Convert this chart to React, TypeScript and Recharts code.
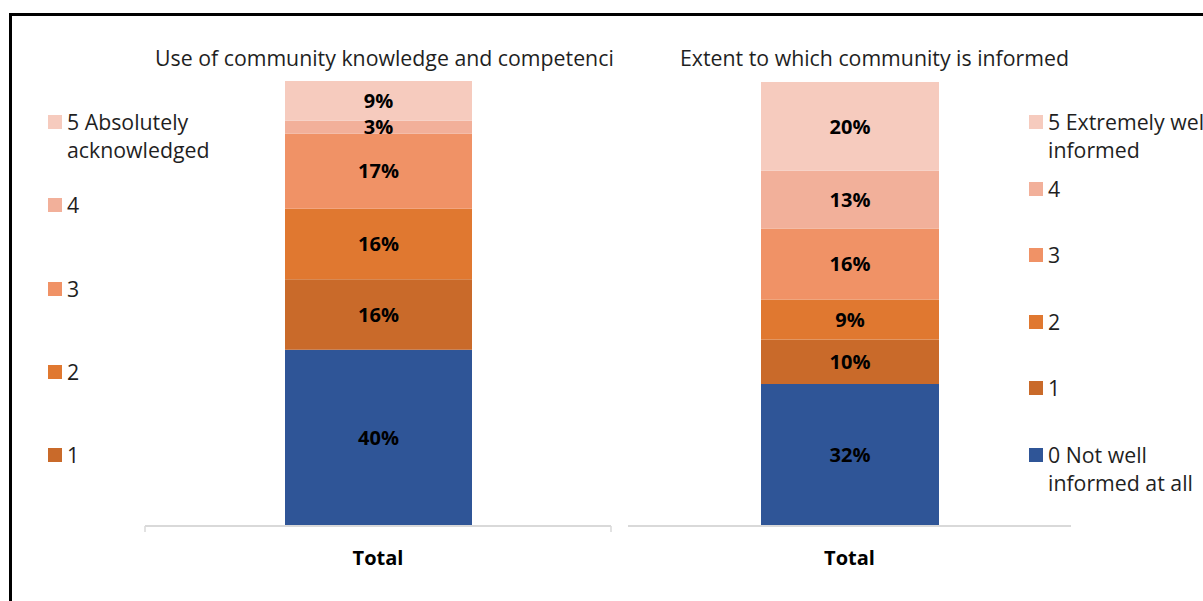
import React from 'react';
import { BarChart, Bar, XAxis, YAxis, LabelList } from 'recharts';

const categories = ['Total'];
const levelKeys = ['l0', 'l1', 'l2', 'l3', 'l4', 'l5'];
const levelColors = ['#2F5597', '#C96A2A', '#E07830', '#F09266', '#F2B09A', '#F6CBBE'];

// share of answers per level 0..5 (%)
const knowledgeUse = [40, 16, 16, 17, 3, 9];
const informedExtent = [32, 10, 9, 16, 13, 20];

const leftTitle = 'Use of community knowledge and competencies';
const rightTitle = 'Extent to which community is informed';

// legend lists, top to bottom (level index + label)
const leftLegendLevels = [5, 4, 3, 2, 1];
const leftLegendLabels = ['5 Absolutely\nacknowledged', '4', '3', '2', '1'];
const rightLegendLevels = [5, 4, 3, 2, 1, 0];
const rightLegendLabels = ['5 Extremely well\ninformed', '4', '3', '2', '1', '0 Not well\ninformed at all'];

const FONT = '"Open Sans", "Noto Sans", sans-serif';
const TEXT = '#1f1f1f';
const AXIS = '#D9D9D9';

const toRows = (values: number[]) =>
  categories.map(name => {
    const row: Record<string, any> = { name };
    levelKeys.forEach((k, i) => { row[k] = values[i]; });
    return row;
  });

const sum = (a: number[]) => a.reduce((s, v) => s + v, 0);

const TotalTick = (props: any) => {
  const { x, y, payload, edges } = props;
  const half = payload && payload.offset ? payload.offset : 0;
  return (
    <g>
      {edges && half > 0 && (
        <>
          <line x1={x - half} x2={x - half} y1={y} y2={y + 6} stroke={AXIS} strokeWidth={1.5} />
          <line x1={x + half} x2={x + half} y1={y} y2={y + 6} stroke={AXIS} strokeWidth={1.5} />
        </>
      )}
      <text x={x} y={y + 31} textAnchor="middle" dominantBaseline="central"
        fontFamily={FONT} fontSize={20} fontWeight={700} fill="#000">
        {payload.value}
      </text>
    </g>
  );
};

const StackChart = ({ values, width, height, margin, barSize, edges }: any) => (
  <BarChart width={width} height={height} data={toRows(values)} margin={margin}>
    <XAxis dataKey="name" height={45} tickSize={0} tickMargin={0} tickLine={false}
      axisLine={{ stroke: AXIS, strokeWidth: 2 }}
      tick={(p: any) => <TotalTick {...p} edges={edges} />} />
    <YAxis hide domain={[0, sum(values)]} allowDataOverflow />
    {levelKeys.map((k, i) => (
      <Bar key={k} dataKey={k} stackId="s" fill={levelColors[i]} barSize={barSize} isAnimationActive={false}>
        <LabelList dataKey={k} position="center" formatter={(v: any) => `${v}%`}
          fill="#000" fontSize={20} fontWeight={700} fontFamily={FONT} />
      </Bar>
    ))}
  </BarChart>
);

const LegendBlock = ({ left, top, step, levels, labels }: any) => (
  <>
    {levels.map((lv: number, i: number) => (
      <div key={lv} style={{ position: 'absolute', left, top: top + i * step - 14, display: 'flex', alignItems: 'flex-start' }}>
        <div style={{ width: 14, height: 14, marginTop: 7, marginRight: 5, background: levelColors[lv] }} />
        <div style={{ fontFamily: FONT, fontSize: 21.3, lineHeight: '28px', color: TEXT, whiteSpace: 'pre' }}>
          {labels[i]}
        </div>
      </div>
    ))}
  </>
);

export default function App() {
  return (
    <div style={{ position: 'absolute', left: 0, top: 0, width: 1203, height: 601, overflow: 'hidden', background: '#fff' }}>
      <div style={{ position: 'absolute', left: 9, top: 13, width: 1400, height: 800, border: '3px solid #000', boxSizing: 'border-box' }} />

      <div style={{ position: 'absolute', left: 155, top: 44, width: 459, overflow: 'hidden', whiteSpace: 'nowrap',
        fontFamily: FONT, fontSize: 21.3, lineHeight: '28px', color: TEXT }}>
        {leftTitle}
      </div>
      <div style={{ position: 'absolute', left: 680, top: 44, whiteSpace: 'nowrap',
        fontFamily: FONT, fontSize: 21.3, lineHeight: '28px', color: TEXT }}>
        {rightTitle}
      </div>

      <div style={{ position: 'absolute', left: 0, top: 0 }}>
        <StackChart values={knowledgeUse} width={700} height={601} barSize={187} edges
          margin={{ top: 81, right: 89, bottom: 30, left: 145 }} />
      </div>
      <div style={{ position: 'absolute', left: 600, top: 0 }}>
        <StackChart values={informedExtent} width={603} height={601} barSize={178} edges={false}
          margin={{ top: 82, right: 132, bottom: 30, left: 28 }} />
      </div>

      <LegendBlock left={48} top={122} step={83.25} levels={leftLegendLevels} labels={leftLegendLabels} />
      <LegendBlock left={1029} top={122} step={66.6} levels={rightLegendLevels} labels={rightLegendLabels} />
    </div>
  );
}
